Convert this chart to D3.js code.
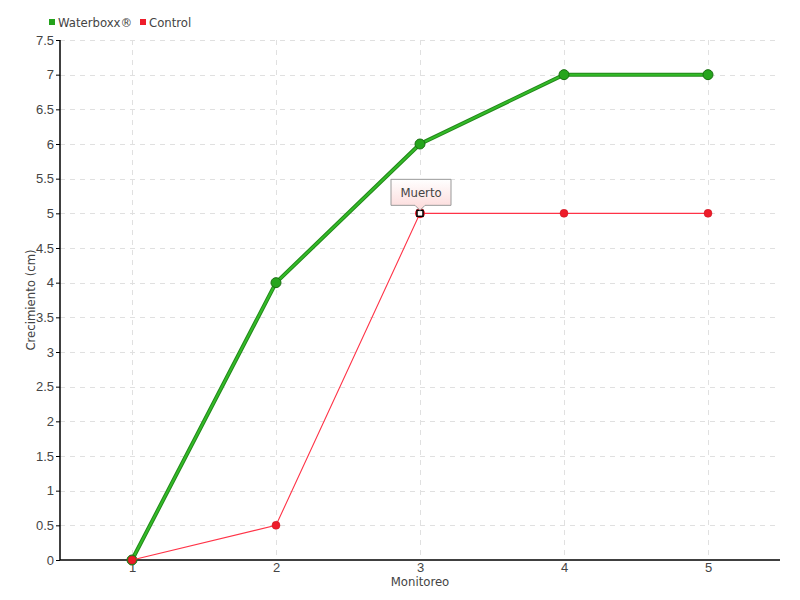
<!DOCTYPE html>
<html><head><meta charset="utf-8">
<script src="https://cdn.jsdelivr.net/npm/d3@7"></script>
<style>body{margin:0;background:#fff}svg{display:block;font-family:"DejaVu Sans Condensed","DejaVu Sans",sans-serif;font-stretch:condensed}</style>
</head><body><svg id="c" width="800" height="600"></svg>
<script>
const categories = [1, 2, 3, 4, 5];
const waterboxx = [0, 4, 6, 7, 7];
const control = [0, 0.5, 5, 5, 5];
const yTicks = [0,0.5,1,1.5,2,2.5,3,3.5,4,4.5,5,5.5,6,6.5,7,7.5];
const seriesNames = ["Waterboxx®", "Control"];
const annotation = {label: "Muerto", index: 2};

const svg = d3.select("#c");
const L=60,R=780,T=40,B=560;
const x = d3.scaleLinear().domain([0.5,5.5]).range([L,R]);
const y = d3.scaleLinear().domain([0,7.5]).range([B,T]);
const grid = svg.append("g");
grid.selectAll("line.h").data(yTicks.slice(1)).join("line")
 .attr("x1",L).attr("x2",R).attr("y1",d=>Math.round(y(d))+0.5).attr("y2",d=>Math.round(y(d))+0.5)
 .attr("stroke","#e0e0e0").attr("stroke-dasharray","5,5");
grid.selectAll("line.v").data(categories).join("line")
 .attr("x1",d=>x(d)+0.5).attr("x2",d=>x(d)+0.5).attr("y1",T).attr("y2",B)
 .attr("stroke","#e0e0e0").attr("stroke-dasharray","5,5");

const yAxis = svg.append("g").attr("transform",`translate(${L},0)`)
 .call(d3.axisLeft(y).tickValues(yTicks).tickSize(4).tickPadding(2).tickFormat(d3.format("")));
const xAxis = svg.append("g").attr("transform",`translate(0,${B})`)
 .call(d3.axisBottom(x).tickValues(categories).tickSize(0).tickPadding(3).tickFormat(d3.format("d")));
[yAxis,xAxis].forEach(a=>{a.select(".domain").attr("stroke","#000").attr("stroke-width",1.5);
 a.selectAll(".tick line").attr("stroke","#000");
 a.selectAll("text").attr("fill","#444").attr("font-size",13).attr("font-family","inherit");});
xAxis.select(".domain").attr("d",`M${L},0H${R}`);
yAxis.select(".domain").attr("d",`M0,${B}V${T}`);

svg.append("text").attr("x",(L+R)/2).attr("y",586).attr("text-anchor","middle")
 .attr("fill","#444").attr("font-size",13).text("Monitoreo");
svg.append("text").attr("transform",`translate(35,${(T+B)/2}) rotate(-90)`).attr("text-anchor","middle")
 .attr("fill","#444").attr("font-size",13).text("Crecimiento (cm)");

const line = d3.line().x((d,i)=>x(categories[i])).y(d=>y(d));
svg.append("path").attr("d",line(waterboxx)).attr("fill","none").attr("stroke","#23881a").attr("stroke-width",4);
svg.append("path").attr("d",line(waterboxx)).attr("fill","none").attr("stroke","#33bb28").attr("stroke-width",2);
svg.selectAll("circle.w").data(waterboxx.map((v,i)=>({c:categories[i],v}))).join("circle")
 .attr("cx",d=>x(d.c)).attr("cy",d=>y(d.v)).attr("r",5)
 .attr("fill","#26a51d").attr("stroke","#1a7012").attr("stroke-width",1);

svg.append("path").attr("d",line(control)).attr("fill","none").attr("stroke","#ff3347").attr("stroke-width",1.1);
const cpts = control.map((v,i)=>({c:categories[i],v,i})).filter(d=>d.i!==annotation.index);
svg.selectAll("circle.c").data(cpts).join("circle")
 .attr("cx",d=>x(d.c)).attr("cy",d=>y(d.v)).attr("r",4)
 .attr("fill","#ee1c2a").attr("stroke","#c0141e").attr("stroke-width",0.5);

const ax = x(categories[annotation.index]), ay = y(control[annotation.index]);
svg.append("circle").attr("cx",ax).attr("cy",ay).attr("r",5).attr("fill","#ee1c2a");
svg.append("rect").attr("x",ax-3).attr("y",ay-3).attr("width",6).attr("height",6)
 .attr("fill","#fff").attr("stroke","#000").attr("stroke-width",1.5);

const defs = svg.append("defs");
const g = defs.append("linearGradient").attr("id","pg").attr("x1",0).attr("y1",0).attr("x2",0).attr("y2",1);
g.append("stop").attr("offset","0").attr("stop-color","#fff");
g.append("stop").attr("offset","1").attr("stop-color","#fcd9d9");
const bx0=ax-29, bx1=ax+31, by0=ay-34, by1=ay-8;
svg.append("path").attr("d",`M${bx0},${by0}H${bx1}V${by1}H${ax+5}L${ax},${ay-3}L${ax-5},${by1}H${bx0}Z`)
 .attr("fill","url(#pg)").attr("stroke","#999").attr("stroke-width",1);
svg.append("text").attr("x",(bx0+bx1)/2).attr("y",by1-8).attr("text-anchor","middle")
 .attr("fill","#444").attr("font-size",13).text(annotation.label);

const leg = svg.append("g");
const colors = ["#24a21c","#ee1c2a"];
const lx = [49, 140];
seriesNames.forEach((n,i)=>{
 leg.append("rect").attr("x",lx[i]).attr("y",19).attr("width",6).attr("height",6).attr("fill",colors[i]);
 leg.append("text").attr("x",lx[i]+9).attr("y",27).attr("fill","#444").attr("font-size",13).text(n);
});
</script></body></html>
